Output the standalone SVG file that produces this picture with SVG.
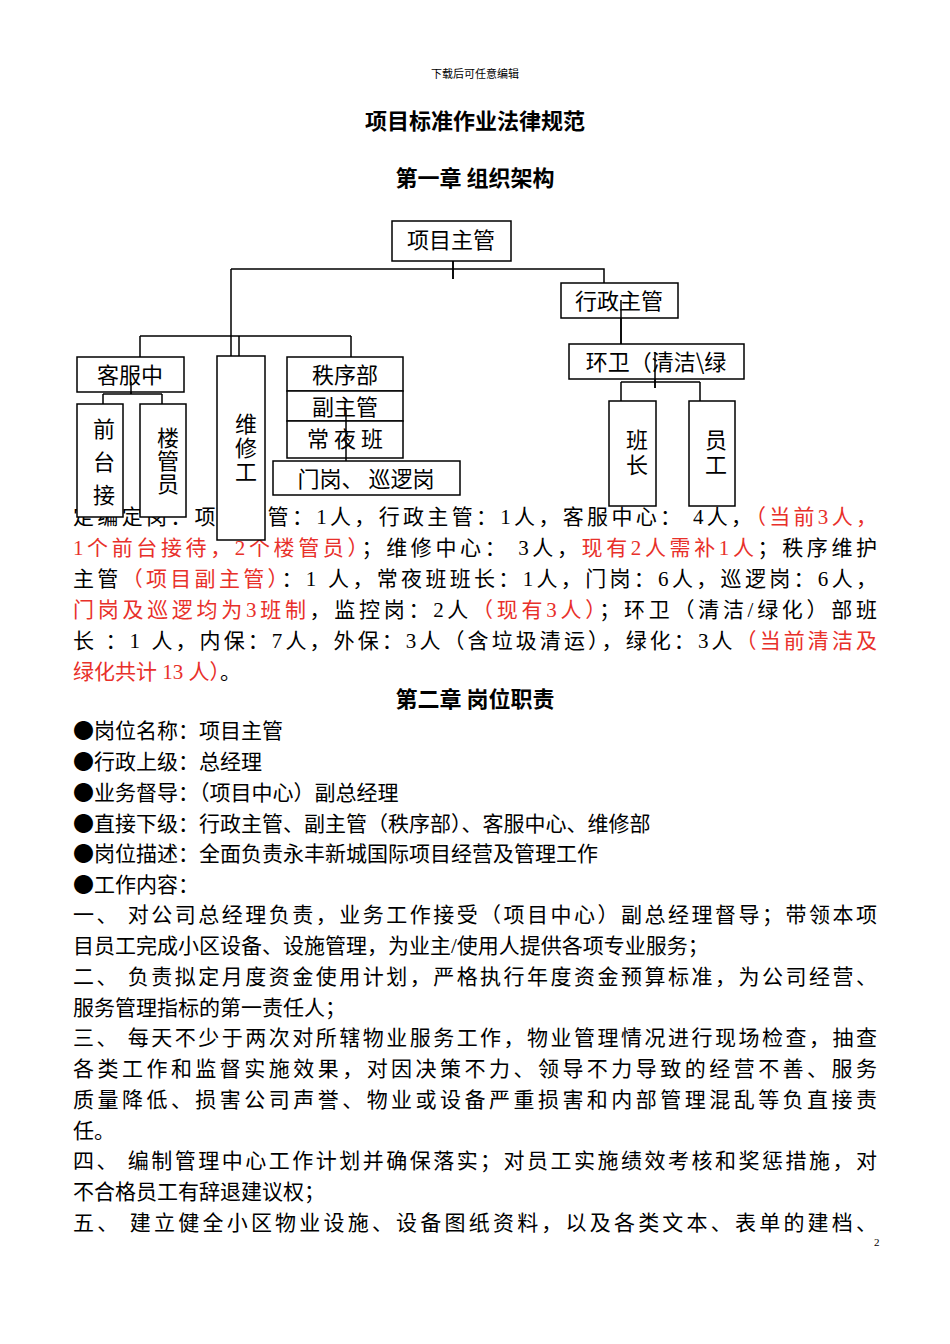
<svg xmlns="http://www.w3.org/2000/svg" width="950" height="1344" viewBox="0 0 950 1344">
<style>
text{font-family:"Liberation Serif","Noto Sans CJK SC",serif;fill:#000}
.b{font-size:21px}
.r{fill:#e8302a}
.h{font-family:"Noto Sans CJK SC",sans-serif;font-weight:bold;font-size:22px}
.n{font-family:"Noto Sans CJK SC",sans-serif;font-size:22px}
.k{font-family:"Noto Sans CJK SC",sans-serif}
.box{fill:#fff;stroke:#000;stroke-width:1.5}
.ln{fill:none;stroke:#000;stroke-width:1.5}
</style>
<rect width="950" height="1344" fill="#fff"/>
<text x="475" y="78" font-size="11" text-anchor="middle">下载后可任意编辑</text>
<text class="h" x="475" y="129" text-anchor="middle">项目标准作业法律规范</text>
<text class="h" x="475" y="186" text-anchor="middle">第一章  组织架构</text>

<g class="b">
<text x="73" y="524" textLength="804" lengthAdjust="spacing">定编定岗：项目主管：1人，行政主管：1人，客服中心：  4人，<tspan class="r">（当前3人，</tspan></text>
<text x="73" y="555" textLength="804" lengthAdjust="spacing"><tspan class="r">1个前台接待，2个楼管员）</tspan>；维修中心：  3人，<tspan class="r">现有2人需补1人</tspan>；秩序维护</text>
<text x="73" y="586" textLength="804" lengthAdjust="spacing">主管<tspan class="r">（项目副主管）</tspan>：1 人，常夜班班长：1人，门岗：6人，巡逻岗：6人，</text>
<text x="73" y="617" textLength="804" lengthAdjust="spacing"><tspan class="r">门岗及巡逻均为3班制</tspan>，监控岗：2人<tspan class="r">（现有3人）</tspan>；环卫（清洁/绿化）部班</text>
<text x="73" y="648" textLength="804" lengthAdjust="spacing">长 ：1 人，内保：7人，外保：3人（含垃圾清运），绿化：3人<tspan class="r">（当前清洁及</tspan></text>
<text x="73" y="679"><tspan class="r">绿化共计 13 人）</tspan>。</text>
</g>

<g id="connectors">
<path class="ln" d="M453 261V279M231 269H604V283M231 269V356M239 336V356M140 336H351M140 336V357M351 336V357"/>
<path class="ln" d="M621 309V344M655 366V388M621 382H700M621 382V401M700 382V401"/>
<path class="ln" d="M131 382V394M103 394H162M103 394V404M162 394V404"/>
</g>
<g id="n-xmzg"><rect class="box" x="392" y="221" width="119" height="40"/><text class="n" x="451" y="248" text-anchor="middle">项目主管</text></g>
<line class="ln" x1="453" y1="261" x2="453" y2="279"/>
<g id="n-xzzg"><rect class="box" x="561" y="283" width="117" height="35"/><text class="n" x="619" y="309" text-anchor="middle">行政主管</text></g>
<line class="ln" x1="621" y1="300" x2="621" y2="344"/>
<g id="n-hw"><rect class="box" x="569" y="344" width="175" height="35"/><text class="n" x="656" y="370" text-anchor="middle">环卫（清洁\绿</text></g>
<line class="ln" x1="655" y1="352" x2="655" y2="388"/>
<g id="n-bz"><rect class="box" x="609" y="401" width="47" height="105"/><text class="n" x="637" y="448" text-anchor="middle">班</text><text class="n" x="637" y="473" text-anchor="middle">长</text></g>
<g id="n-yg"><rect class="box" x="689" y="401" width="46" height="105"/><text class="n" x="716" y="448" text-anchor="middle">员</text><text class="n" x="716" y="473" text-anchor="middle">工</text></g>
<g id="n-kf"><rect class="box" x="77" y="357" width="107" height="35"/><text class="n" x="130" y="383" text-anchor="middle">客服中</text></g>
<line class="ln" x1="131" y1="382" x2="131" y2="394"/>
<g id="n-qt"><rect class="box" x="77" y="404" width="46" height="113"/><text class="n" x="104" y="437" text-anchor="middle">前</text><text class="n" x="104" y="470" text-anchor="middle">台</text><text class="n" x="104" y="503" text-anchor="middle">接</text></g>
<g id="n-lg"><rect class="box" x="140" y="404" width="46" height="113"/><text class="n" x="168" y="446" text-anchor="middle" font-size="20">楼</text><text class="n" x="168" y="469" text-anchor="middle" font-size="20">管</text><text class="n" x="168" y="492" text-anchor="middle" font-size="20">员</text></g>
<g id="n-wx"><rect class="box" x="217" y="356" width="48" height="184"/><text class="n" x="246" y="432" text-anchor="middle" font-size="20">维</text><text class="n" x="246" y="456" text-anchor="middle" font-size="20">修</text><text class="n" x="246" y="480" text-anchor="middle" font-size="20">工</text></g>
<g id="n-zx">
<rect class="box" x="287" y="357" width="116" height="34"/><text class="n" x="345" y="383" text-anchor="middle">秩序部</text>
<rect class="box" x="287" y="391" width="116" height="30"/><text class="n" x="345" y="415" text-anchor="middle">副主管</text>
<rect class="box" x="287" y="421" width="116" height="37"/><text class="n" x="345" y="447" text-anchor="middle">常 夜 班</text>
</g>
<line class="ln" x1="346" y1="410" x2="346" y2="461"/>
<g id="n-mg"><rect class="box" x="273" y="461" width="187" height="34"/><text class="n" x="366" y="487" text-anchor="middle">门岗、  巡逻岗</text></g>

<text class="h" x="475" y="707" text-anchor="middle">第二章  岗位职责</text>
<g class="b">
<text x="73" y="738"><tspan class="k">●</tspan>岗位名称：项目主管</text>
<text x="73" y="769"><tspan class="k">●</tspan>行政上级：总经理</text>
<text x="73" y="800"><tspan class="k">●</tspan>业务督导：（项目中心）副总经理</text>
<text x="73" y="831"><tspan class="k">●</tspan>直接下级：行政主管、副主管（秩序部）、客服中心、维修部</text>
<text x="73" y="861"><tspan class="k">●</tspan>岗位描述：全面负责永丰新城国际项目经营及管理工作</text>
<text x="73" y="892"><tspan class="k">●</tspan>工作内容：</text>
<text x="73" y="922" textLength="804" lengthAdjust="spacing">一、  对公司总经理负责，业务工作接受（项目中心）副总经理督导；带领本项</text>
<text x="73" y="953">目员工完成小区设备、设施管理，为业主/使用人提供各项专业服务；</text>
<text x="73" y="984" textLength="804" lengthAdjust="spacing">二、  负责拟定月度资金使用计划，严格执行年度资金预算标准，为公司经营、</text>
<text x="73" y="1015">服务管理指标的第一责任人；</text>
<text x="73" y="1045" textLength="804" lengthAdjust="spacing">三、  每天不少于两次对所辖物业服务工作，物业管理情况进行现场检查，抽查</text>
<text x="73" y="1076" textLength="804" lengthAdjust="spacing">各类工作和监督实施效果，对因决策不力、领导不力导致的经营不善、服务</text>
<text x="73" y="1107" textLength="804" lengthAdjust="spacing">质量降低、损害公司声誉、物业或设备严重损害和内部管理混乱等负直接责</text>
<text x="73" y="1138">任。</text>
<text x="73" y="1168" textLength="804" lengthAdjust="spacing">四、  编制管理中心工作计划并确保落实；对员工实施绩效考核和奖惩措施，对</text>
<text x="73" y="1199">不合格员工有辞退建议权；</text>
<text x="73" y="1230" textLength="804" lengthAdjust="spacing">五、  建立健全小区物业设施、设备图纸资料，以及各类文本、表单的建档、</text>
</g>
<text x="874" y="1246" font-size="11">2</text>
</svg>
